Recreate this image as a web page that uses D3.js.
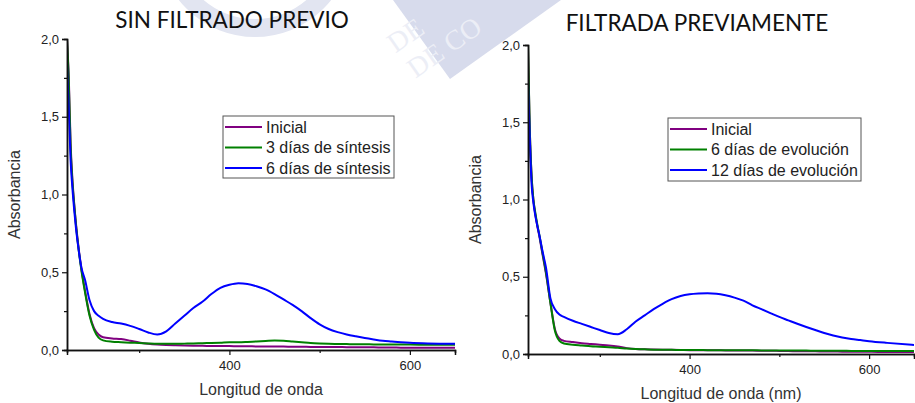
<!DOCTYPE html>
<html><head><meta charset="utf-8">
<script src="https://cdn.jsdelivr.net/npm/d3@7"></script>
<style>
html,body{margin:0;padding:0;background:#fff;}
svg{display:block;}
.tick text{font-family:"Liberation Sans",Arial,sans-serif;}
</style></head>
<body>
<svg id="c" width="915" height="403"></svg>
<script>
// ---------- data ----------
const wavelengths = [220,222,224,226,228,230,233,236,240,245,250,255,260,270,280,290,300,310,320,330,340,350,360,370,380,390,400,410,420,430,440,450,460,470,480,490,500,510,520,530,540,550,560,570,580,590,600,620,650];

const leftInicial = [2.0,1.75,1.33,1.1,0.94,0.81,0.65,0.52,0.38,0.23,0.14,0.10,0.082,0.074,0.07,0.06,0.048,0.04,0.035,0.032,0.03,0.029,0.028,0.027,0.026,0.025,0.025,0.024,0.024,0.023,0.023,0.022,0.022,0.021,0.021,0.02,0.02,0.019,0.019,0.018,0.018,0.017,0.017,0.016,0.016,0.015,0.015,0.015,0.015];
const left3dias = [2.0,1.72,1.3,1.08,0.93,0.8,0.64,0.51,0.37,0.22,0.13,0.08,0.062,0.053,0.05,0.047,0.045,0.042,0.04,0.04,0.04,0.041,0.042,0.044,0.045,0.047,0.05,0.05,0.052,0.055,0.058,0.061,0.06,0.055,0.05,0.045,0.042,0.04,0.039,0.038,0.037,0.037,0.036,0.036,0.035,0.035,0.035,0.034,0.034];
const left6dias = [1.85,1.55,1.22,1.04,0.9,0.78,0.64,0.53,0.45,0.32,0.25,0.22,0.2,0.18,0.17,0.155,0.135,0.113,0.1,0.12,0.17,0.22,0.27,0.31,0.36,0.4,0.42,0.43,0.425,0.41,0.39,0.36,0.325,0.29,0.25,0.205,0.165,0.135,0.115,0.1,0.088,0.077,0.068,0.06,0.055,0.05,0.046,0.042,0.04];

const rightInicial = [1.97,1.45,1.15,1.0,0.91,0.84,0.75,0.65,0.52,0.33,0.16,0.1,0.085,0.077,0.07,0.065,0.06,0.055,0.048,0.038,0.032,0.03,0.029,0.028,0.027,0.026,0.025,0.025,0.024,0.024,0.023,0.023,0.022,0.022,0.021,0.021,0.02,0.019,0.018,0.017,0.017,0.016,0.016,0.015,0.015,0.014,0.014,0.013,0.013];
const right6dias = [2.0,1.45,1.15,1.0,0.92,0.85,0.76,0.66,0.53,0.33,0.15,0.085,0.068,0.06,0.055,0.05,0.047,0.043,0.04,0.035,0.032,0.03,0.028,0.027,0.027,0.026,0.026,0.026,0.025,0.025,0.025,0.025,0.024,0.024,0.023,0.023,0.023,0.022,0.022,0.022,0.021,0.021,0.021,0.021,0.02,0.02,0.02,0.02,0.02];
const right12dias = [1.77,1.4,1.1,0.98,0.9,0.84,0.76,0.67,0.56,0.36,0.29,0.255,0.24,0.215,0.195,0.175,0.155,0.136,0.128,0.16,0.21,0.25,0.29,0.325,0.355,0.375,0.386,0.391,0.393,0.39,0.38,0.365,0.345,0.315,0.29,0.265,0.24,0.218,0.196,0.175,0.155,0.136,0.12,0.107,0.097,0.09,0.083,0.072,0.058];

const leftLabels = ["Inicial","3 días de síntesis","6 días de síntesis"];
const rightLabels = ["Inicial","6 días de evolución","12 días de evolución"];
const seriesColors = ["#800080","#008000","#0000ff"];

const yMajorTicks = [0,0.5,1,1.5,2];
const yTickLabels = ["0,0","0,5","1,0","1,5","2,0"];
const yMinorTicks = [0.25,0.75,1.25,1.75];
const xMajorTicks = [400,600];
const xTickLabels = ["400","600"];
const xMinorTicks = [300,500];

const titles = ["SIN FILTRADO PREVIO","FILTRADA PREVIAMENTE"];
const xTitles = ["Longitud de onda","Longitud de onda (nm)"];
const yTitle = "Absorbancia";

// ---------- drawing ----------
const svg = d3.select("#c");

// watermark
const wm = svg.append("g");
wm.append("circle").attr("cx",255).attr("cy",-60).attr("r",88)
  .attr("fill","none").attr("stroke","#e2e5f1").attr("stroke-width",18);
wm.append("polygon").attr("points","393,0 450,79 561,0").attr("fill","#d7dbec");
const wt = wm.append("g").attr("transform","translate(450,79) rotate(-35)");
wt.append("text").attr("x",-30).attr("y",-52).text("DE")
  .attr("font-family","'Liberation Serif',serif").attr("font-size",28)
  .attr("fill","#eceef6");
wt.append("text").attr("x",-28).attr("y",-20).text("DE CO")
  .attr("font-family","'Liberation Serif',serif").attr("font-size",28)
  .attr("fill","#eceef6");

const panels = [
  {x0:67,x1:455,yb:350,yt:39,series:[leftInicial,left3dias,left6dias],labels:leftLabels,
   title:titles[0],titleX:232,titleY:28,xt:xTitles[0],xtY:395,ytX:20,
   leg:{x:223,y:116,w:171,h:62}},
  {x0:528,x1:914,yb:354,yt:45,series:[rightInicial,right6dias,right12dias],labels:rightLabels,
   title:titles[1],titleX:697,titleY:31,xt:xTitles[1],xtY:399,ytX:481,
   leg:{x:668,y:118,w:193,h:63}}
];

panels.forEach((p,pi)=>{
  const x = d3.scaleLinear().domain([220,650]).range([p.x0,p.x1]);
  const y = d3.scaleLinear().domain([0,2]).range([p.yb,p.yt]);
  const g = svg.append("g");
  const clipId = "clip"+pi;
  g.append("clipPath").attr("id",clipId).append("rect")
    .attr("x",p.x0).attr("y",p.yt-1).attr("width",p.x1-p.x0).attr("height",p.yb-p.yt+1);

  const line = d3.line().x((d,i)=>x(wavelengths[i])).y(d=>y(d)).curve(d3.curveMonotoneX);
  const lg = g.append("g").attr("clip-path",`url(#${clipId})`);
  p.series.forEach((s,si)=>{
    lg.append("path").datum(s).attr("d",line).attr("fill","none")
      .attr("stroke",seriesColors[si]).attr("stroke-width",2).attr("stroke-linejoin","round");
  });

  // axes
  const yAx = d3.axisLeft(y).tickValues(yMajorTicks).tickSize(5).tickPadding(3)
    .tickFormat((d,i)=>yTickLabels[i]);
  const yMin = d3.axisLeft(y).tickValues(yMinorTicks).tickSize(3).tickFormat("");
  const xAx = d3.axisBottom(x).tickValues(xMajorTicks).tickSize(5).tickPadding(6)
    .tickFormat((d,i)=>xTickLabels[i]);
  const xMin = d3.axisBottom(x).tickValues(xMinorTicks).tickSize(3).tickFormat("");

  [ [yAx,`translate(${p.x0},0)`],[yMin,`translate(${p.x0},0)`],
    [xAx,`translate(0,${p.yb})`],[xMin,`translate(0,${p.yb})`] ].forEach(([ax,t])=>{
    const a = g.append("g").attr("transform",t).call(ax);
    a.select(".domain").attr("stroke","#111").attr("stroke-width",1.5);
    a.selectAll(".tick line").attr("stroke","#111").attr("stroke-width",1.2);
    a.selectAll(".tick text").attr("font-size",13).attr("fill","#222");
  });

  // titles
  svg.append("text").attr("x",p.titleX).attr("y",p.titleY).attr("text-anchor","middle")
    .attr("font-family","Lato, 'Open Sans', sans-serif").attr("font-size",22.5).attr("fill","#111")
    .text(p.title);
  svg.append("text").attr("x",(p.x0+p.x1)/2).attr("y",p.xtY).attr("text-anchor","middle")
    .attr("font-family","'Liberation Sans',Arial,sans-serif").attr("font-size",16).attr("fill","#333")
    .text(p.xt);
  svg.append("text").attr("transform",`translate(${p.ytX},${(p.yb+p.yt)/2})`+" rotate(-90)")
    .attr("text-anchor","middle")
    .attr("font-family","'Liberation Sans',Arial,sans-serif").attr("font-size",16).attr("fill","#333")
    .text(yTitle);

  // legend
  const L = p.leg;
  const lgd = svg.append("g");
  lgd.append("rect").attr("x",L.x).attr("y",L.y).attr("width",L.w).attr("height",L.h)
    .attr("fill","#fff").attr("stroke","#555").attr("stroke-width",1);
  p.labels.forEach((lab,i)=>{
    const cy = L.y + 11 + i*20.5;
    lgd.append("line").attr("x1",L.x+2).attr("x2",L.x+39).attr("y1",cy).attr("y2",cy)
      .attr("stroke",seriesColors[i]).attr("stroke-width",2);
    lgd.append("text").attr("x",L.x+43).attr("y",cy+5.5)
      .attr("font-family","'Liberation Sans',Arial,sans-serif").attr("font-size",16).attr("fill","#222")
      .text(lab);
  });
});
</script>
</body></html>
